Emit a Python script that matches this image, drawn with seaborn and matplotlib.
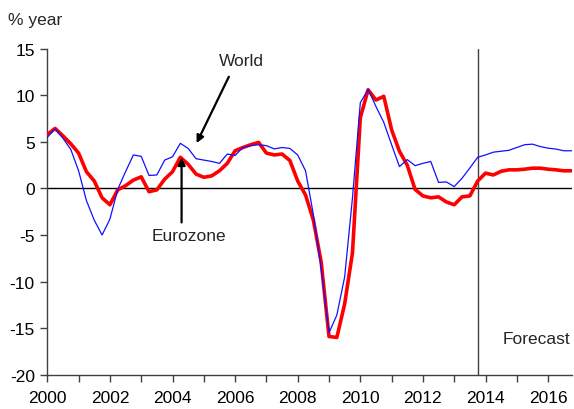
import numpy as np
import pandas as pd
import matplotlib
matplotlib.use("Agg")
import matplotlib.pyplot as plt
import seaborn as sns

# Quarterly data, 2000 Q1 .. 2016 Q4 (% year)
quarters = [2000 + 0.25 * i for i in range(68)]

eurozone = [
    5.8, 6.45, 5.65, 4.8,
    3.8, 1.8, 0.8, -1.0,
    -1.75, -0.15, 0.3, 0.9,
    1.25, -0.35, -0.15, 1.0,
    1.8, 3.35, 2.6, 1.55,
    1.2, 1.35, 1.9, 2.7,
    4.05, 4.4, 4.7, 4.95,
    3.8, 3.6, 3.7, 3.0,
    0.8, -0.7, -3.4, -7.9,
    -15.9, -16.0, -12.4, -6.9,
    7.6, 10.6, 9.5, 9.9,
    6.3, 4.0, 2.5, -0.1,
    -0.8, -1.0, -0.9, -1.45,
    -1.75, -0.9, -0.8, 0.8,
    1.65, 1.45, 1.85, 2.0,
    2.0, 2.07, 2.18, 2.18,
    2.07, 2.0, 1.9, 1.9,
]

world = [
    5.5, 6.4, 5.4, 4.2,
    1.9, -1.3, -3.4, -5.0,
    -3.3, -0.1, 1.8, 3.6,
    3.45, 1.4, 1.45, 3.05,
    3.4, 4.85, 4.3, 3.2,
    3.05, 2.9, 2.7, 3.7,
    3.55, 4.4, 4.6, 4.7,
    4.6, 4.25, 4.4, 4.3,
    3.6, 1.9, -2.8, -8.6,
    -15.5, -13.6, -9.5, -1.0,
    9.2, 10.65, 8.8, 7.1,
    4.7, 2.35, 3.1, 2.45,
    2.7, 2.9, 0.65, 0.7,
    0.2, 1.1, 2.2, 3.35,
    3.6, 3.9, 4.0, 4.1,
    4.4, 4.7, 4.76, 4.5,
    4.33, 4.23, 4.05, 4.05,
]

y_ticks = [-20, -15, -10, -5, 0, 5, 10, 15]
x_label_years = list(range(2000, 2017, 2))
forecast_start = 2013.75

df = pd.DataFrame({
    "date": quarters * 2,
    "value": eurozone + world,
    "series": ["Eurozone"] * len(quarters) + ["World"] * len(quarters),
})

sns.set_style("white")
plt.rcParams["font.family"] = ["Liberation Sans", "DejaVu Sans"]

fig = plt.figure(figsize=(5.74, 4.10), dpi=100)
ax = fig.add_axes([0.0824, 0.0837, 0.9134, 0.7948])

sns.lineplot(data=df[df.series == "Eurozone"], x="date", y="value",
             color="#ff0000", linewidth=2.6, ax=ax, legend=False, zorder=3)
sns.lineplot(data=df[df.series == "World"], x="date", y="value",
             color="#1010ff", linewidth=0.9, ax=ax, legend=False, zorder=4)

ax.axhline(0, color="black", linewidth=1.0, zorder=2)
ax.axvline(forecast_start, color="#404040", linewidth=1.0, zorder=2)

ax.set_xlim(2000, 2016.75)
ax.set_ylim(-20, 15)
ax.set_yticks(y_ticks)
ax.set_yticklabels([str(t) for t in y_ticks])
ax.set_xticks(list(range(2000, 2017)))
ax.set_xticklabels([str(y) if y in x_label_years else "" for y in range(2000, 2017)])
ax.set_xlabel("")
ax.set_ylabel("")

for s in ["top", "right"]:
    ax.spines[s].set_visible(False)
for s in ["left", "bottom"]:
    ax.spines[s].set_color("#404040")
    ax.spines[s].set_linewidth(1.0)

ax.tick_params(axis="both", which="both", direction="out", length=5, width=1.0,
               color="#404040", labelsize=12.5, labelcolor="black")
ax.tick_params(axis="x", pad=6)
ax.tick_params(axis="y", pad=4)
ax.tick_params(left=True, bottom=True)

fig.text(0.0145, 0.9495, "% year", fontsize=12.5, va="center", ha="left")

ax.text(2006.2, 13.7, "World", ha="center", va="center", fontsize=12.5)
ax.annotate("", xy=(2004.77, 4.87), xytext=(2005.8, 12.0),
            arrowprops=dict(arrowstyle="-|>", color="black", lw=1.6,
                            mutation_scale=11, shrinkA=0, shrinkB=0))
ax.text(2004.53, -5.1, "Eurozone", ha="center", va="center", fontsize=12.5)
ax.annotate("", xy=(2004.29, 3.33), xytext=(2004.29, -3.65),
            arrowprops=dict(arrowstyle="-|>", color="black", lw=1.6,
                            mutation_scale=11, shrinkA=0, shrinkB=0))
ax.text(2016.72, -16.1, "Forecast", ha="right", va="center", fontsize=12.5)

fig.savefig("out.png", dpi=100)
